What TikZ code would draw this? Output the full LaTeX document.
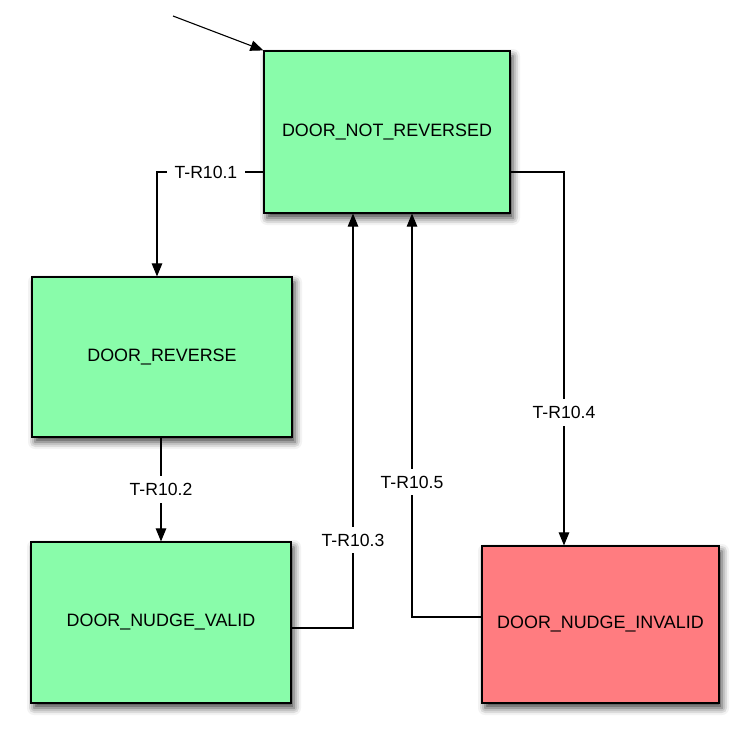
\documentclass[tikz,border=0pt]{standalone}
\usepackage{fontspec}
\setmainfont{Liberation Sans}
\usetikzlibrary{arrows.meta,shadows.blur}
\definecolor{stgreen}{RGB}{137,252,170}
\definecolor{stred}{RGB}{255,124,128}
\tikzset{
  state/.style={draw=black, line width=1.2pt, fill=stgreen, font=\fontsize{17.9}{20}\selectfont,
    inner sep=0pt, blur shadow={shadow xshift=3pt, shadow yshift=-5pt, shadow blur radius=7pt, shadow opacity=75}},
  badstate/.style={state, fill=stred},
  trans/.style={line width=1.1pt, -{Triangle[length=13pt,width=10.5pt]}},
  lbl/.style={fill=white, font=\fontsize{17.6}{20}\selectfont, inner xsep=8pt, inner ysep=7pt}
}
\begin{document}
\begin{tikzpicture}[x=1pt,y=-1pt]
\useasboundingbox (0,0) rectangle (748,739);
\node[state, minimum width=246pt, minimum height=162pt] (nr) at (387,132) {DOOR\_NOT\_REVERSED};
\node[state, minimum width=260pt, minimum height=160pt] (rev) at (162,357) {DOOR\_REVERSE};
\node[state, minimum width=260pt, minimum height=161pt] (nv) at (161,622.5) {DOOR\_NUDGE\_VALID};
\node[badstate, minimum width=237pt, minimum height=157pt] (ni) at (600.5,624.5) {DOOR\_NUDGE\_INVALID};
\coordinate (start) at (173,16);
\draw[trans] (start) -- (nr.north west);
\draw[trans] (nr.west |- 0,172) -- node[lbl, pos=0.54]{T-R10.1} (157,172) -- (rev.north -| 157,0);
\draw[trans] (rev.south -| 161,0) -- node[lbl]{T-R10.2} (nv.north -| 161,0);
\draw[trans] (nv.east |- 0,628) -- (353,628) -- node[lbl, pos=0.212]{T-R10.3} (nr.south -| 353,0);
\draw[trans] (nr.east |- 0,172) -- (564,172) -- node[lbl, pos=0.644]{T-R10.4} (ni.north -| 564,0);
\draw[trans] (ni.west |- 0,617) -- (412,617) -- node[lbl, pos=0.334]{T-R10.5} (nr.south -| 412,0);
\end{tikzpicture}
\end{document}
